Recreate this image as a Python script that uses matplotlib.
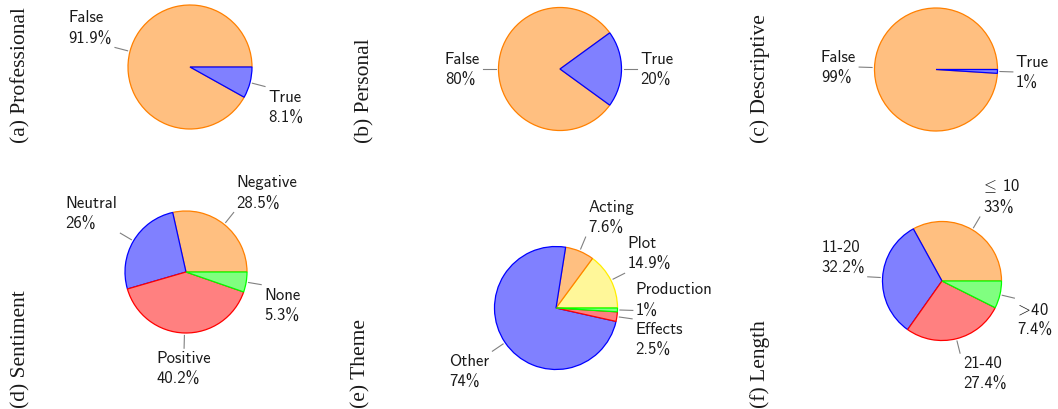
import numpy as np
import matplotlib
matplotlib.use('Agg')
import matplotlib.pyplot as plt

plt.rcParams['mathtext.fontset'] = 'cm'

# ---- data -------------------------------------------------------------
prof_labels = ['False', 'True']
prof_values = [91.9, 8.1]

pers_labels = ['False', 'True']
pers_values = [80, 20]

desc_labels = ['False', 'True']
desc_values = [99, 1]

sent_labels = ['Negative', 'Neutral', 'Positive', 'None']
sent_values = [28.5, 26, 40.2, 5.3]

theme_labels = ['Plot', 'Acting', 'Other', 'Effects', 'Production']
theme_values = [14.9, 7.6, 74, 2.5, 1]

len_labels = [r'$\!\leq\!$ 10', '11-20', '21-40', r'$\!>\!$40']
len_values = [33, 32.2, 27.4, 7.4]

captions = ['(a) Professional', '(b) Personal', '(c) Descriptive',
            '(d) Sentiment', '(e) Theme', '(f) Length']

# ---- colours (fill, edge) --------------------------------------------
ORANGE = ('#ffbf80', '#ff8000')
BLUE = ('#8080ff', '#0000ff')
RED = ('#ff8080', '#ff0000')
GREEN = ('#80ff80', '#00ff00')
YELLOW = ('#fff799', '#ffee00')

# ---- layout (pixels, image coords: y down) ---------------------------
W, H = 1058, 410
panels = [
    # labels, values, colours, centre, radius, startangle, caption pos
    (prof_labels, prof_values, [ORANGE, BLUE], (190, 68), 62, 0, (20.5, 143)),
    (pers_labels, pers_values, [ORANGE, BLUE], (560, 70), 61.5, 36, (364.5, 143)),
    (desc_labels, desc_values, [ORANGE, BLUE], (936, 70.5), 61.5, 0, (760.5, 143)),
    (sent_labels, sent_values, [ORANGE, BLUE, RED, GREEN], (186, 273), 61, 0, (20.5, 408)),
    (theme_labels, theme_values, [YELLOW, ORANGE, BLUE, RED, GREEN], (556, 309), 61.5, 0, (361, 408)),
    (len_labels, len_values, [ORANGE, BLUE, RED, GREEN], (942, 282), 59.5, 0, (760.5, 408)),
]
nudge = {'Production': 11}

LABEL_FONT = 'cmss10'
LABEL_SIZE = 12
CAP_FONT = 'Liberation Serif'
CAP_SIZE = 15.5


def anchor(a):
    a = a % 360
    if a < 2 or a > 358:
        return 'left', 'center'
    if a < 88:
        return 'left', 'bottom'
    if a <= 92:
        return 'center', 'bottom'
    if a < 178:
        return 'right', 'bottom'
    if a <= 182:
        return 'right', 'center'
    if a < 268:
        return 'right', 'top'
    if a <= 272:
        return 'center', 'top'
    return 'left', 'top'


fig = plt.figure(figsize=(W / 100, H / 100), dpi=100)
ax = fig.add_axes([0, 0, 1, 1])

for cap, (labels, values, cols, (cx, cy), r, start, (capx, capy)) in zip(captions, panels):
    cy = H - cy
    wedges, _ = ax.pie(values, colors=[c[0] for c in cols], startangle=start,
                       center=(cx, cy), radius=r,
                       wedgeprops=dict(linewidth=0.9))
    for w, c in zip(wedges, cols):
        w.set_edgecolor(c[1])
    total = float(sum(values))
    theta = start
    for lab, v in zip(labels, values):
        mid = theta + v / total * 360 / 2
        theta += v / total * 360
        t = np.deg2rad(mid)
        dx, dy = np.cos(t), np.sin(t)
        x0, y0 = cx + 1.04 * r * dx, cy + 1.04 * r * dy
        x1, y1 = cx + 1.25 * r * dx, cy + 1.25 * r * dy
        ax.plot([x0, x1], [y0, y1], color='#808080', lw=0.8)
        ha, va = anchor(mid)
        gx = {'left': 3, 'right': -3, 'center': 0}[ha]
        gy = {'bottom': 2, 'top': -2, 'center': 0}[va]
        ax.text(x1 + gx, y1 + gy + nudge.get(lab, 0), '%s\n%g%%' % (lab, v),
                ha=ha, va=va, multialignment='left', family=LABEL_FONT,
                fontsize=LABEL_SIZE, linespacing=1.5, color='#1a1a1a')
    ax.text(capx, H - capy, cap, rotation=90, ha='center', va='bottom',
            family=CAP_FONT, fontsize=CAP_SIZE, color='#1a1a1a')

ax.set_xlim(0, W)
ax.set_ylim(0, H)
ax.set_aspect('equal')
ax.axis('off')

fig.savefig('out.png', dpi=100)
